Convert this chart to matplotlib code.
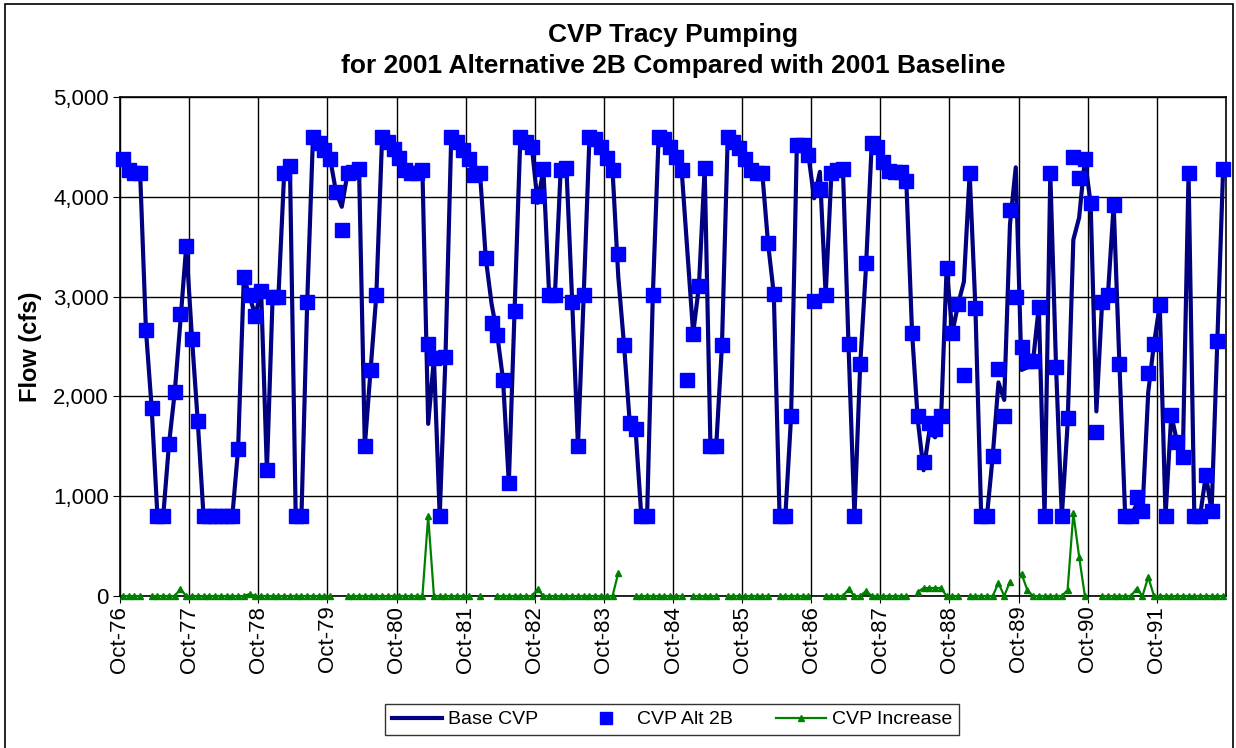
import numpy as np
import matplotlib
matplotlib.use("Agg")
import matplotlib.pyplot as plt
import matplotlib.patches as patches
from matplotlib.ticker import FuncFormatter

plt.rcParams['font.family'] = ['Liberation Sans', 'DejaVu Sans']

nan = np.nan

# monthly values, Oct-76 .. Sep-92 (one row per water year)
alt_2b = [
    4380, 4270, 4240, 4235, 2670, 1880, 800, 800, 1520, 2040, 2830, 3510,
    2580, 1750, 800, 800, 800, 800, 800, 800, 1470, 3200, 3020, 2810,
    3060, 1260, 3000, 3000, 4235, 4310, 800, 800, 2950, 4600, 4535, 4470,
    4375, 4050, 3670, 4235, 4250, 4280, 1500, 2265, 3015, 4600, 4550, 4480,
    4385, 4270, 4240, 4240, 4270, 2525, 2380, 800, 2390, 4600, 4550, 4470,
    4375, 4220, 4235, 3385, 2740, 2615, 2165, 1130, 2855, 4600, 4550, 4500,
    4010, 4275, 3015, 3015, 4270, 4285, 2950, 1500, 3015, 4600, 4575, 4495,
    4385, 4270, 3430, 2515, 1730, 1670, 800, 800, 3015, 4600, 4575, 4500,
    4400, 4270, 2165, 2630, 3105, 4285, 1500, 1500, 2515, 4600, 4550, 4485,
    4375, 4270, 4235, 4235, 3535, 3025, 800, 800, 1800, 4520, 4520, 4420,
    2960, 4075, 3015, 4235, 4270, 4280, 2530, 800, 2320, 3340, 4535, 4495,
    4350, 4260, 4250, 4250, 4160, 2640, 1800, 1340, 1730, 1670, 1800, 3285,
    2640, 2925, 2215, 4235, 2885, 800, 800, 1400, 2270, 1800, 3870, 3000,
    2490, 2350, 2350, 2900, 800, 4235, 2290, 800, 1780, 4400, 4185, 4375,
    3935, 1640, 2950, 3015, 3920, 2320, 800, 800, 995, 855, 2230, 2530,
    2915, 800, 1815, 1545, 1395, 4235, 800, 800, 1210, 855, 2555, 4275,
]

base_cvp = [
    4380, 4270, 4240, 4235, 2670, 1880, 800, 800, 1520, 2040, 2760, 3510,
    2580, 1750, 800, 800, 800, 800, 800, 800, 1470, 3200, 3000, 2810,
    3060, 1260, 3000, 3000, 4235, 4310, 800, 800, 2950, 4600, 4535, 4470,
    4375, 4050, 3900, 4235, 4250, 4280, 1500, 2265, 3015, 4600, 4550, 4480,
    4385, 4270, 4240, 4240, 4270, 1725, 2380, 800, 2390, 4600, 4550, 4470,
    4375, 4220, 4235, 3385, 2930, 2615, 2165, 1130, 2855, 4600, 4550, 4500,
    3940, 4275, 3015, 3015, 4270, 4285, 2950, 1500, 3015, 4600, 4575, 4495,
    4385, 4270, 3200, 2515, 1730, 1670, 800, 800, 3015, 4600, 4575, 4500,
    4400, 4270, 3450, 2630, 3105, 4285, 1500, 1500, 2515, 4600, 4550, 4485,
    4375, 4270, 4235, 4235, 3535, 3025, 800, 800, 1800, 4520, 4520, 4420,
    3985, 4250, 3015, 4235, 4270, 4280, 2460, 800, 2320, 3290, 4535, 4495,
    4350, 4260, 4250, 4250, 4160, 2640, 1760, 1260, 1650, 1590, 1720, 3285,
    2640, 2925, 3150, 4235, 2885, 800, 800, 1400, 2140, 1965, 3725, 4295,
    2265, 2290, 2350, 2900, 800, 4235, 2290, 800, 1720, 3570, 3790, 4375,
    3935, 1850, 2950, 3015, 3920, 2320, 800, 800, 920, 855, 2040, 2530,
    2915, 800, 1815, 1545, 1395, 4235, 800, 800, 1210, 855, 2555, 4275,
]

cvp_increase = [
    0, 0, 0, 0, nan, 0, 0, 0, 0, 0, 70, 0,
    0, 0, 0, 0, 0, 0, 0, 0, 0, 0, 20, 0,
    0, 0, 0, 0, 0, 0, 0, 0, 0, 0, 0, 0,
    0, nan, nan, 0, 0, 0, 0, 0, 0, 0, 0, 0,
    0, 0, 0, 0, 0, 800, 0, 0, 0, 0, 0, 0,
    0, nan, 0, nan, nan, 0, 0, 0, 0, 0, 0, 0,
    70, 0, 0, 0, 0, 0, 0, 0, 0, 0, 0, 0,
    0, 0, 230, nan, nan, 0, 0, 0, 0, 0, 0, 0,
    0, 0, nan, 0, 0, 0, 0, 0, nan, 0, 0, 0,
    0, 0, 0, 0, 0, nan, 0, 0, 0, 0, 0, 0,
    nan, nan, 0, 0, 0, 0, 70, 0, 0, 50, 0, 0,
    0, 0, 0, 0, 0, nan, 40, 80, 80, 80, 80, 0,
    0, 0, nan, 0, 0, 0, 0, 0, 130, 0, 145, nan,
    225, 60, 0, 0, 0, 0, 0, 0, 60, 830, 395, 0,
    nan, nan, 0, 0, 0, 0, 0, 0, 75, 0, 190, 0,
    0, 0, 0, 0, 0, 0, 0, 0, 0, 0, 0, 0,
]

tick_labels = ['Oct-76', 'Oct-77', 'Oct-78', 'Oct-79', 'Oct-80', 'Oct-81',
               'Oct-82', 'Oct-83', 'Oct-84', 'Oct-85', 'Oct-86', 'Oct-87',
               'Oct-88', 'Oct-89', 'Oct-90', 'Oct-91']

n = len(alt_2b)
x = np.arange(n) + 0.5

fig = plt.figure(figsize=(12.36, 7.48), dpi=100)
ax = fig.add_axes([120 / 1236, 1 - 596 / 748, 1106 / 1236, 499 / 748])

ax.plot(x, base_cvp, color='#000080', lw=3.0, label='Base CVP', zorder=3)
ax.plot(x, alt_2b, ls='none', marker='s', ms=9.5, mfc='#0000ff', mec='#0000ff',
        label='CVP Alt 2B', zorder=4, clip_on=False)
ax.plot(x, cvp_increase, color='#008000', lw=1.6, marker='^', ms=5,
        mfc='#008000', mec='#008000', label='CVP Increase', zorder=5, clip_on=False)

ax.set_xlim(0, n)
ax.set_ylim(0, 5000)
ax.set_yticks(np.arange(0, 5001, 1000))
ax.yaxis.set_major_formatter(FuncFormatter(lambda v, p: f'{int(v):,}'))
ax.set_xticks(np.arange(0, n, 12))
ax.set_xticklabels(tick_labels, rotation=90)
ax.tick_params(axis='both', labelsize=16, direction='out', length=5, color='black')
ax.tick_params(axis='x', pad=2)
ax.tick_params(axis='y', pad=3)
ax.grid(True, color='black', lw=1.0)
ax.set_axisbelow(True)
for s in ax.spines.values():
    s.set_color('black')
    s.set_linewidth(1.2)

ax.set_ylabel('Flow (cfs)', fontsize=17, fontweight='bold', labelpad=8)

fig.text(673 / 1236, 1 - 35 / 748, 'CVP Tracy Pumping', ha='center', va='center',
         fontsize=19, fontweight='bold')
fig.text(673 / 1236, 1 - 66 / 748, 'for 2001 Alternative 2B Compared with 2001 Baseline',
         ha='center', va='center', fontsize=19, fontweight='bold')

leg = fig.legend(loc='upper center', bbox_to_anchor=(672 / 1236, 1 - 704 / 748), ncol=3,
                 fontsize=14, frameon=True, fancybox=False, edgecolor='black',
                 handlelength=2.6, handletextpad=0.3, columnspacing=2.2,
                 borderpad=0.35, borderaxespad=0, markerscale=0.9)
leg.get_frame().set_linewidth(1.0)

fig.patches.append(patches.Rectangle((5 / 1236, -0.01), 1228 / 1236, 1.01 - 4 / 748,
                                     transform=fig.transFigure, fill=False,
                                     edgecolor='black', lw=1.2))

fig.savefig('out.png', dpi=100)
